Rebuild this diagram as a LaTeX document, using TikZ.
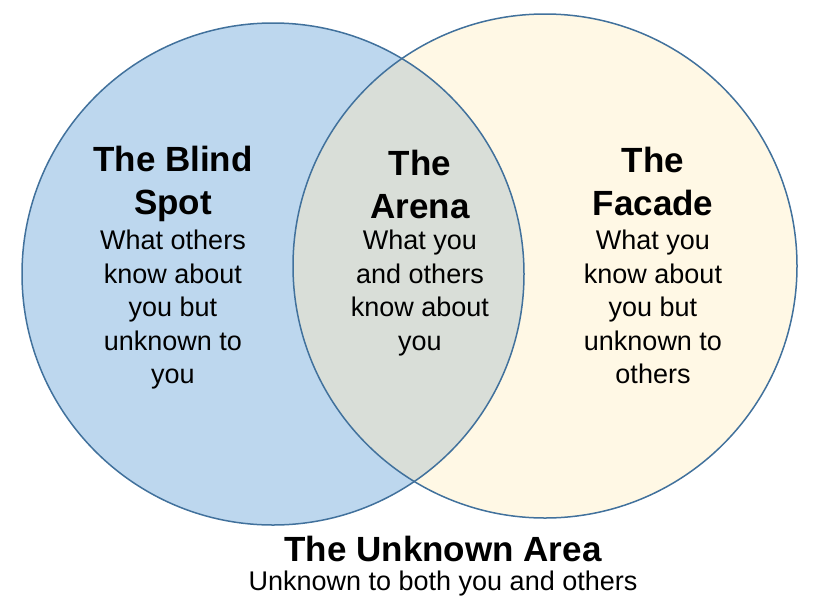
\documentclass[tikz,border=0pt]{standalone}
\usepackage{fontspec}
\setmainfont{Liberation Sans}
\definecolor{blindblue}{RGB}{189,215,238}
\definecolor{facadecream}{RGB}{255,248,229}
\definecolor{arenagray}{RGB}{217,222,216}
\definecolor{rimblue}{RGB}{65,113,156}
\tikzset{
    title/.style={font=\fontsize{35}{43}\selectfont\bfseries, align=center, inner sep=0pt},
    body/.style={font=\fontsize{27}{33.5}\selectfont, align=center, inner sep=0pt}
}
\begin{document}
\begin{tikzpicture}[x=1pt,y=-1pt]
    \useasboundingbox (0,0) rectangle (825,606);
    \fill[blindblue] (273,274) circle (251);
    \fill[facadecream] (545,266) circle (252);
    \begin{scope}
      \clip (273,274) circle (251);
      \fill[arenagray] (545,266) circle (252);
    \end{scope}
    \draw[rimblue,line width=1.5pt] (273,274) circle (251);
    \draw[rimblue,line width=1.5pt] (545,266) circle (252);
    % texts
    \node[title] (blind) at (173,184) {The Blind\\Spot};
    \node[body] (blindtxt) at (173,310) {What others\\know about\\you but\\unknown to\\you};
    \node[title] (arena) at (420,184) {The\\Arena};
    \node[body] (arenatxt) at (420,293) {What you\\and others\\know about\\you};
    \node[title] (facade) at (653,181) {The\\Facade};
    \node[body] (facadetxt) at (653,307) {What you\\know about\\you but\\unknown to\\others};
    \node[title] (unknown) at (443,549) {The Unknown Area};
    \node[body] (unknowntxt) at (443,584) {Unknown to both you and others};
\end{tikzpicture}
\end{document}
